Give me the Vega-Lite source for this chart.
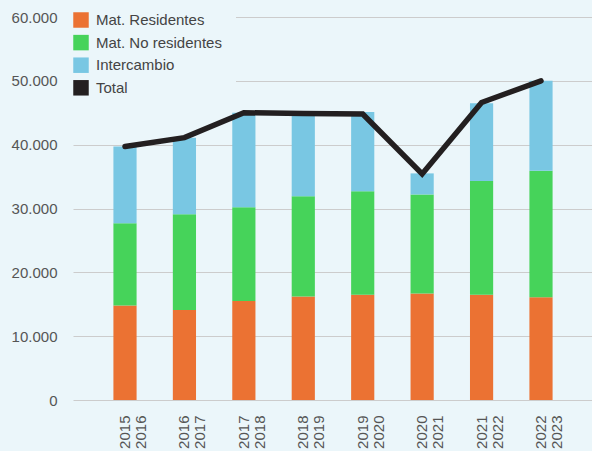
{
  "$schema": "https://vega.github.io/schema/vega-lite/v6.json",
  "width": 520,
  "height": 383,
  "autosize": {"type": "none"},
  "padding": {"left": 73, "top": 17, "right": 0, "bottom": 51},
  "background": "#EBF6FA",
  "config": {
    "view": {"stroke": null},
    "font": "Liberation Sans"
  },
  "datasets": {
    "barras": [
      {"periodo": "2015-2016", "serie": "Mat. Residentes", "valor": 14800},
      {"periodo": "2015-2016", "serie": "Mat. No residentes", "valor": 12900},
      {"periodo": "2015-2016", "serie": "Intercambio", "valor": 12000},
      {"periodo": "2016-2017", "serie": "Mat. Residentes", "valor": 14100},
      {"periodo": "2016-2017", "serie": "Mat. No residentes", "valor": 15000},
      {"periodo": "2016-2017", "serie": "Intercambio", "valor": 12000},
      {"periodo": "2017-2018", "serie": "Mat. Residentes", "valor": 15500},
      {"periodo": "2017-2018", "serie": "Mat. No residentes", "valor": 14700},
      {"periodo": "2017-2018", "serie": "Intercambio", "valor": 14800},
      {"periodo": "2018-2019", "serie": "Mat. Residentes", "valor": 16200},
      {"periodo": "2018-2019", "serie": "Mat. No residentes", "valor": 15700},
      {"periodo": "2018-2019", "serie": "Intercambio", "valor": 13000},
      {"periodo": "2019-2020", "serie": "Mat. Residentes", "valor": 16500},
      {"periodo": "2019-2020", "serie": "Mat. No residentes", "valor": 16200},
      {"periodo": "2019-2020", "serie": "Intercambio", "valor": 12400},
      {"periodo": "2020-2021", "serie": "Mat. Residentes", "valor": 16700},
      {"periodo": "2020-2021", "serie": "Mat. No residentes", "valor": 15500},
      {"periodo": "2020-2021", "serie": "Intercambio", "valor": 3300},
      {"periodo": "2021-2022", "serie": "Mat. Residentes", "valor": 16500},
      {"periodo": "2021-2022", "serie": "Mat. No residentes", "valor": 17800},
      {"periodo": "2021-2022", "serie": "Intercambio", "valor": 12200},
      {"periodo": "2022-2023", "serie": "Mat. Residentes", "valor": 16100},
      {"periodo": "2022-2023", "serie": "Mat. No residentes", "valor": 19800},
      {"periodo": "2022-2023", "serie": "Intercambio", "valor": 14100}
    ],
    "total": [
      {"periodo": "2015-2016", "serie": "Total", "valor": 39700},
      {"periodo": "2016-2017", "serie": "Total", "valor": 41100},
      {"periodo": "2017-2018", "serie": "Total", "valor": 45000},
      {"periodo": "2018-2019", "serie": "Total", "valor": 44900},
      {"periodo": "2019-2020", "serie": "Total", "valor": 44800},
      {"periodo": "2020-2021", "serie": "Total", "valor": 35400},
      {"periodo": "2021-2022", "serie": "Total", "valor": 46600},
      {"periodo": "2022-2023", "serie": "Total", "valor": 50000}
    ]
  },
  "encoding": {
    "x": {
      "field": "periodo",
      "type": "nominal",
      "title": null,
      "scale": {"paddingInner": 0.61, "paddingOuter": 0.68},
      "axis": {
        "labelAngle": -90,
        "labelExpr": "split(datum.label, '-')",
        "labelFontSize": 15,
        "labelColor": "#555555",
        "labelLineHeight": 16,
        "labelPadding": 15,
        "ticks": false,
        "tickSize": 0,
        "domain": false,
        "grid": false
      }
    },
    "y": {
      "field": "valor",
      "type": "quantitative",
      "title": null,
      "scale": {"domain": [0, 60000], "nice": false, "zero": true},
      "axis": {
        "values": [0, 10000, 20000, 30000, 40000, 50000, 60000],
        "labelExpr": "replace(format(datum.value, ','), ',', '.')",
        "labelFontSize": 15,
        "labelColor": "#555555",
        "labelPadding": 16,
        "ticks": false,
        "tickSize": 0,
        "domain": false,
        "grid": true,
        "gridColor": "#CCCCCC",
        "gridWidth": 1.2
      }
    }
  },
  "layer": [
    {
      "data": {"name": "barras"},
      "mark": {"type": "bar"},
      "encoding": {
        "y": {"field": "valor", "type": "quantitative", "stack": "zero"},
        "color": {
          "field": "serie",
          "type": "nominal",
          "sort": ["Mat. Residentes", "Mat. No residentes", "Intercambio", "Total"],
          "scale": {
            "domain": ["Mat. Residentes", "Mat. No residentes", "Intercambio", "Total"],
            "range": ["#EB7233", "#46D35A", "#79C7E3", "#231F20"]
          },
          "legend": {
            "title": null,
            "orient": "none",
            "legendX": -14,
            "legendY": -19,
            "padding": 14,
            "fillColor": "#EBF6FA",
            "symbolType": "square",
            "symbolSize": 240,
            "symbolStrokeWidth": 0,
            "labelFontSize": 15,
            "labelColor": "#444444",
            "labelOffset": 7,
            "rowPadding": 6.6
          }
        }
      }
    },
    {
      "data": {"name": "total"},
      "mark": {"type": "line", "strokeWidth": 5.5, "strokeCap": "round", "strokeJoin": "miter"},
      "encoding": {
        "color": {"field": "serie", "type": "nominal"}
      }
    }
  ]
}
